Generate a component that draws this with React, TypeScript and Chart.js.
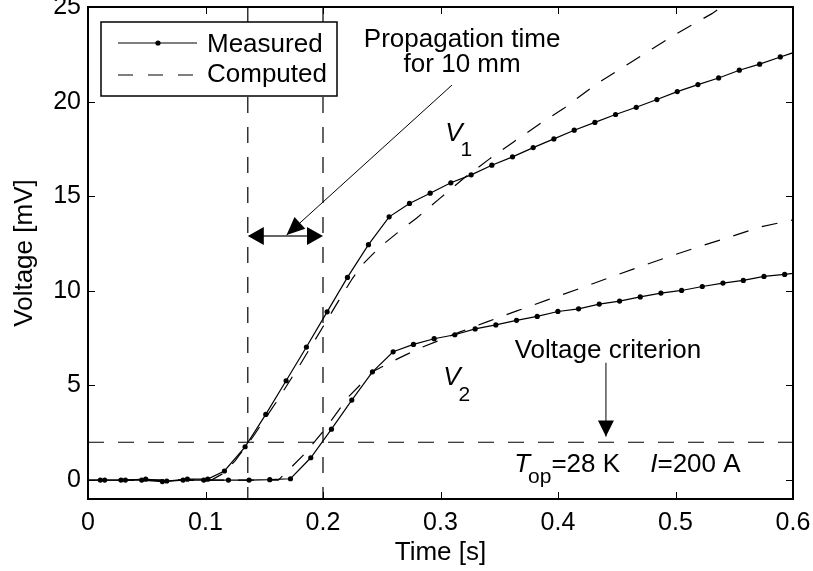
import React, { useEffect, useRef } from 'react';
import { Chart, registerables } from 'chart.js';

Chart.register(...registerables);

// ---------- data ----------
const xTicks = [0, 0.1, 0.2, 0.3, 0.4, 0.5, 0.6];
const xTickLabels = ['0', '0.1', '0.2', '0.3', '0.4', '0.5', '0.6'];
const yTicks = [0, 5, 10, 15, 20, 25];
const yTickLabels = ['0', '5', '10', '15', '20', '25'];

const v1MeasTime = [0.0142, 0.0318, 0.0491, 0.067, 0.0846, 0.1019, 0.1161, 0.1337, 0.1513, 0.1686, 0.1859, 0.2035, 0.2208, 0.2387, 0.2563, 0.2736, 0.2912, 0.3088, 0.3261, 0.3437, 0.3613, 0.3789, 0.3965, 0.4138, 0.4314, 0.449, 0.4666, 0.4842, 0.5015, 0.5191, 0.5367, 0.5543, 0.5716, 0.5892, 0.6067];
const v1MeasVolt = [0, 0, 0.05, -0.05, 0.05, 0.05, 0.48, 1.76, 3.47, 5.25, 7.03, 8.89, 10.71, 12.44, 13.91, 14.62, 15.16, 15.71, 16.13, 16.64, 17.08, 17.57, 18.03, 18.49, 18.9, 19.32, 19.7, 20.11, 20.53, 20.9, 21.25, 21.66, 21.98, 22.36, 22.72];

const v2MeasTime = [0.0105, 0.0281, 0.0457, 0.0633, 0.0809, 0.0985, 0.1195, 0.1371, 0.1547, 0.1723, 0.1896, 0.2072, 0.2245, 0.2421, 0.2597, 0.277, 0.2946, 0.3122, 0.3295, 0.3471, 0.3647, 0.3823, 0.3999, 0.4175, 0.4351, 0.4524, 0.47, 0.4876, 0.5052, 0.5228, 0.5404, 0.5577, 0.5753, 0.5929, 0.6104];
const v2MeasVolt = [0, 0, 0, -0.08, 0, 0, 0, 0, 0.02, 0.07, 1.18, 2.69, 4.23, 5.72, 6.78, 7.17, 7.47, 7.68, 7.99, 8.2, 8.44, 8.65, 8.91, 9.05, 9.3, 9.46, 9.68, 9.88, 10.02, 10.23, 10.41, 10.55, 10.76, 10.87, 11.0];

const v1CompTime = [0, 0.105, 0.115, 0.125, 0.14, 0.16, 0.18, 0.2, 0.215, 0.225, 0.233, 0.243, 0.253, 0.263, 0.2798, 0.2997, 0.3196, 0.3423, 0.3622, 0.3849, 0.4047, 0.4331, 0.4558, 0.4785, 0.5012, 0.531, 0.6];
const v1CompVolt = [0, 0, 0.35, 1.0, 2.25, 4.1, 6.05, 8.1, 9.65, 10.65, 11.35, 11.98, 12.55, 13.05, 13.85, 14.9, 15.94, 17.0, 17.87, 18.84, 19.63, 20.95, 21.83, 22.72, 23.6, 24.65, 27.6];

const v2CompTime = [0, 0.162, 0.1848, 0.2032, 0.2217, 0.243, 0.2642, 0.2827, 0.2997, 0.3167, 0.3395, 0.365, 0.3905, 0.4161, 0.4416, 0.4672, 0.4941, 0.5197, 0.5466, 0.5722, 0.6];
const v2CompVolt = [0, 0, 1.41, 2.82, 4.4, 5.75, 6.43, 6.98, 7.4, 7.83, 8.36, 8.94, 9.51, 10.07, 10.65, 11.22, 11.8, 12.33, 12.85, 13.38, 13.75];

const propagationMarks = [0.136, 0.2];
const propagationArrowY = 12.9;
const criterionVoltage = 2;

// ---------- styling ----------
const FONT = '"Liberation Sans", Arial, Helvetica, sans-serif';
const DASH = [16, 14];

const toPts = (t: number[], v: number[]) => t.map((x, i) => ({ x, y: v[i] }));

function arrowHead(ctx: CanvasRenderingContext2D, fx: number, fy: number, tx: number, ty: number, len: number, half: number) {
  const ang = Math.atan2(ty - fy, tx - fx);
  const bx = tx - len * Math.cos(ang);
  const by = ty - len * Math.sin(ang);
  const nx = -Math.sin(ang) * half;
  const ny = Math.cos(ang) * half;
  ctx.beginPath();
  ctx.moveTo(tx, ty);
  ctx.lineTo(bx + nx, by + ny);
  ctx.lineTo(bx - nx, by - ny);
  ctx.closePath();
  ctx.fill();
}

function runs(ctx: CanvasRenderingContext2D, x: number, y: number, parts: { t: string; it?: boolean; s: number; dy?: number; gap?: number }[]) {
  let cx = x;
  ctx.textAlign = 'left';
  ctx.textBaseline = 'alphabetic';
  for (const p of parts) {
    cx += p.gap || 0;
    ctx.font = `${p.it ? 'italic ' : ''}${p.s}px ${FONT}`;
    ctx.fillText(p.t, cx, y + (p.dy || 0));
    cx += ctx.measureText(p.t).width;
  }
}

const decor = {
  id: 'decor',
  afterDatasetsDraw(chart: any) {
    const { ctx, chartArea: a, scales } = chart;
    const X = (v: number) => scales.x.getPixelForValue(v);
    const Y = (v: number) => scales.y.getPixelForValue(v);
    ctx.save();
    ctx.strokeStyle = '#000';
    ctx.fillStyle = '#000';

    // dashed guide lines
    ctx.lineWidth = 1.2;
    ctx.setLineDash(DASH);
    for (const t of propagationMarks) {
      ctx.beginPath();
      ctx.moveTo(X(t), a.top);
      ctx.lineTo(X(t), a.bottom);
      ctx.stroke();
    }
    ctx.beginPath();
    ctx.moveTo(a.left, Y(criterionVoltage));
    ctx.lineTo(a.right, Y(criterionVoltage));
    ctx.stroke();
    ctx.setLineDash([]);

    // double arrow
    const ya = Y(propagationArrowY);
    const xl = X(propagationMarks[0]);
    const xr = X(propagationMarks[1]);
    ctx.strokeStyle = '#333';
    ctx.lineWidth = 1.6;
    ctx.beginPath();
    ctx.moveTo(xl + 10, ya);
    ctx.lineTo(xr - 10, ya);
    ctx.stroke();
    ctx.strokeStyle = '#000';
    arrowHead(ctx, xr, ya, xl, ya, 16, 9);
    arrowHead(ctx, xl, ya, xr, ya, 16, 9);

    // pointer arrow from label
    const fx = X(0.3097), fy = Y(20.87), tx = X(0.169), ty = Y(12.95);
    ctx.lineWidth = 1;
    ctx.beginPath();
    ctx.moveTo(fx, fy);
    ctx.lineTo(tx, ty);
    ctx.stroke();
    arrowHead(ctx, fx, fy, tx, ty, 18, 8);

    // voltage criterion arrow
    const cx = X(0.4408);
    ctx.beginPath();
    ctx.moveTo(cx, Y(6.2));
    ctx.lineTo(cx, Y(2.3));
    ctx.stroke();
    arrowHead(ctx, cx, Y(6.2), cx, Y(2.3), 16, 8);

    // frame
    ctx.lineWidth = 2;
    ctx.strokeRect(a.left, a.top, a.right - a.left, a.bottom - a.top);
    // inward ticks
    ctx.lineWidth = 1;
    const tl = 7;
    ctx.beginPath();
    for (const t of xTicks) {
      const p = Math.round(X(t)) + 0.5;
      ctx.moveTo(p, a.bottom); ctx.lineTo(p, a.bottom - tl);
      ctx.moveTo(p, a.top); ctx.lineTo(p, a.top + tl);
    }
    for (const v of yTicks) {
      const p = Math.round(Y(v)) + 0.5;
      ctx.moveTo(a.left, p); ctx.lineTo(a.left + tl, p);
      ctx.moveTo(a.right, p); ctx.lineTo(a.right - tl, p);
    }
    ctx.stroke();

    // legend
    const lx = a.left + 13, ly = a.top + 15, lw = 236, lh = 74;
    ctx.fillStyle = '#fff';
    ctx.fillRect(lx, ly, lw, lh);
    ctx.fillStyle = '#000';
    ctx.lineWidth = 1.5;
    ctx.strokeRect(lx, ly, lw, lh);
    ctx.lineWidth = 1.2;
    const r1 = ly + 21, r2 = ly + 53;
    ctx.beginPath();
    ctx.moveTo(lx + 17, r1); ctx.lineTo(lx + 96, r1);
    ctx.stroke();
    ctx.beginPath();
    ctx.arc(lx + 57, r1, 2.6, 0, Math.PI * 2);
    ctx.fill();
    ctx.setLineDash([15, 15]);
    ctx.beginPath();
    ctx.moveTo(lx + 17, r2); ctx.lineTo(lx + 96, r2);
    ctx.stroke();
    ctx.setLineDash([]);
    ctx.font = `26px ${FONT}`;
    ctx.textAlign = 'left';
    ctx.textBaseline = 'alphabetic';
    ctx.fillText('Measured', lx + 106, ly + 30);
    ctx.fillText('Computed', lx + 106, ly + 60);

    // annotation texts
    ctx.textAlign = 'center';
    ctx.fillText('Propagation time', X(0.3184), Y(22.87));
    ctx.fillText('for 10 mm', X(0.3184), Y(21.55));
    ctx.fillText('Voltage criterion', X(0.4425), Y(6.44));

    runs(ctx, X(0.304), Y(17.9), [{ t: 'V', it: true, s: 26 }, { t: '1', s: 21, dy: 15, gap: -2 }]);
    runs(ctx, X(0.3023), Y(5.02), [{ t: 'V', it: true, s: 26 }, { t: '2', s: 21, dy: 16, gap: -2 }]);
    runs(ctx, X(0.3627), Y(0.42), [
      { t: 'T', it: true, s: 26 },
      { t: 'op', s: 21, dy: 11, gap: -2 },
      { t: '=28 K', s: 26 },
    ]);
    runs(ctx, X(0.4785), Y(0.42), [{ t: 'I', it: true, s: 26 }, { t: '=200 A', s: 26 }]);

    // axis titles
    ctx.textAlign = 'center';
    ctx.font = `26px ${FONT}`;
    ctx.fillText('Time [s]', (a.left + a.right) / 2, 560);
    ctx.save();
    ctx.translate(32, (a.top + a.bottom) / 2);
    ctx.rotate(-Math.PI / 2);
    ctx.fillText('Voltage [mV]', 0, 0);
    ctx.restore();

    ctx.restore();
  },
};

export default function App() {
  const ref = useRef<HTMLCanvasElement | null>(null);
  useEffect(() => {
    if (!ref.current) return;
    const measured = { borderColor: '#000', backgroundColor: '#000', borderWidth: 1.2, pointRadius: 2.6, pointBorderWidth: 0, pointBackgroundColor: '#000', showLine: true, tension: 0 };
    const computed = { borderColor: '#000', borderWidth: 1.2, borderDash: DASH, pointRadius: 0, showLine: true, tension: 0 };
    const chart = new Chart(ref.current, {
      type: 'scatter',
      data: {
        datasets: [
          { label: 'V1 computed', data: toPts(v1CompTime, v1CompVolt), ...computed },
          { label: 'V2 computed', data: toPts(v2CompTime, v2CompVolt), ...computed },
          { label: 'V1 measured', data: toPts(v1MeasTime, v1MeasVolt), ...measured },
          { label: 'V2 measured', data: toPts(v2MeasTime, v2MeasVolt), ...measured },
        ],
      } as any,
      options: {
        animation: false,
        responsive: false,
        events: [],
        layout: { padding: { top: 7, right: 20, bottom: 0, left: 0 } },
        plugins: { legend: { display: false }, tooltip: { enabled: false } },
        scales: {
          x: {
            type: 'linear',
            min: 0,
            max: 0.6,
            grid: { display: false, drawTicks: false },
            border: { display: false },
            afterBuildTicks: (s: any) => { s.ticks = xTicks.map((v) => ({ value: v })); },
            afterFit: (s: any) => { s.height = 72; s.paddingLeft = 0; s.paddingRight = 0; s.paddingTop = 0; s.paddingBottom = 0; },
            ticks: {
              color: '#000',
              font: { family: FONT, size: 25 },
              padding: 9,
              maxRotation: 0,
              autoSkip: false,
              callback: (_v: any, i: number) => xTickLabels[i],
            },
          },
          y: {
            type: 'linear',
            min: -1,
            max: 25,
            grid: { display: false, drawTicks: false },
            border: { display: false },
            afterBuildTicks: (s: any) => { s.ticks = yTicks.map((v) => ({ value: v })); },
            afterFit: (s: any) => { s.width = 88; s.paddingLeft = 0; s.paddingRight = 0; s.paddingTop = 0; s.paddingBottom = 0; },
            ticks: {
              color: '#000',
              font: { family: FONT, size: 25 },
              padding: 7,
              autoSkip: false,
              callback: (_v: any, i: number) => yTickLabels[i],
            },
          },
        },
      } as any,
      plugins: [decor],
    });
    return () => chart.destroy();
  }, []);
  return (
    <div style={{ position: 'absolute', left: 0, top: 0, width: 813, height: 571, background: '#fff' }}>
      <canvas ref={ref} width={813} height={571} />
    </div>
  );
}
